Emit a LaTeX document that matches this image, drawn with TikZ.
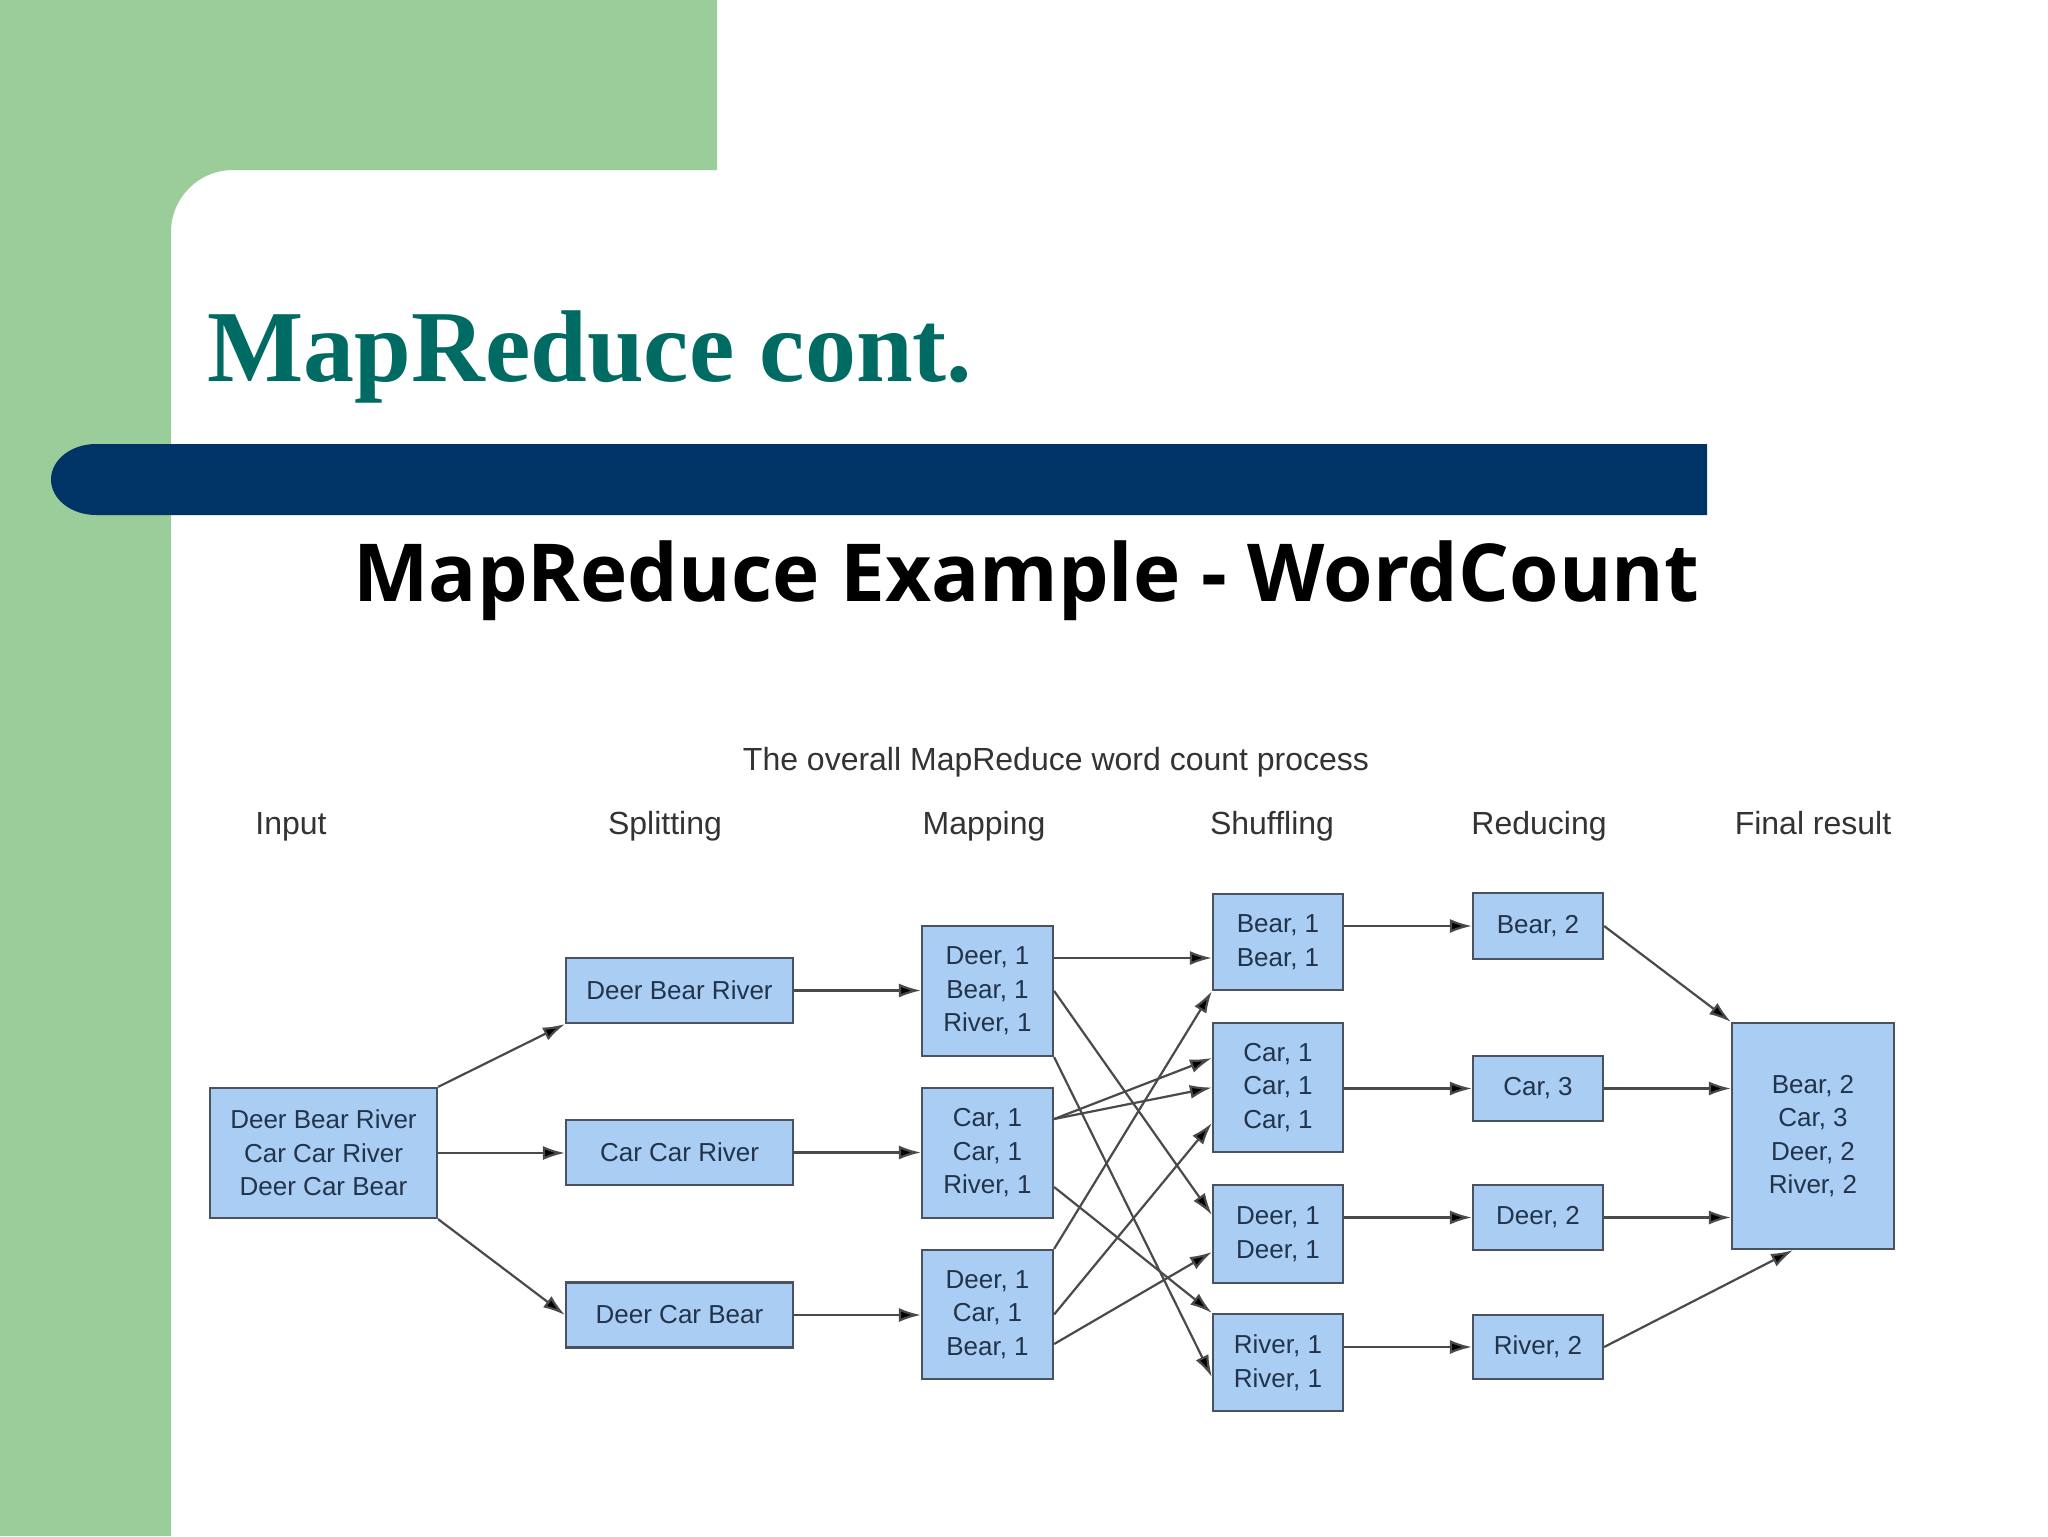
\documentclass[tikz,border=0pt]{standalone}
\usepackage{fontspec}
\setmainfont{Liberation Sans}
\newfontfamily\titlefont{Liberation Serif}
\newfontfamily\subfont{Open Sans}
\usetikzlibrary{arrows.meta}
\definecolor{sgreen}{HTML}{9BCD9B}
\definecolor{snavy}{HTML}{003366}
\definecolor{steal}{HTML}{006B63}
\definecolor{boxfill}{HTML}{A9CDF3}
\definecolor{boxline}{HTML}{4A5260}
\definecolor{boxtext}{HTML}{22334A}
\definecolor{hdrtext}{HTML}{333333}
\definecolor{arrline}{HTML}{4A4A4A}
\tikzset{
  box/.style={draw=boxline, line width=1.1pt, fill=boxfill, rectangle, inner sep=0pt,
    align=center, text=boxtext, font=\fontsize{13}{16.75}\selectfont},
  hdr/.style={anchor=base, text=hdrtext, font=\fontsize{16}{19}\selectfont, inner sep=0pt},
  arr/.style={draw=arrline, line width=1.1pt, -{Latex[length=11pt,width=7pt,fill=black]}}
}
\begin{document}
\begin{tikzpicture}[x=0.5pt,y=-0.5pt]
\useasboundingbox (0,0) rectangle (2048,1536);
\fill[white] (0,0) rectangle (2048,1536);
% green L-shaped background
\fill[sgreen] (0,0) -- (717,0) -- (717,170) -- (233,170)
  arc[start angle=270, end angle=180, radius=62] -- (171,1536) -- (0,1536) -- cycle;
% navy bar
\fill[snavy] (1707,444) -- (96,444) arc[start angle=270, end angle=90, x radius=45, y radius=35.5] -- (1707,515) -- cycle;
% titles
\node[anchor=base west, inner sep=0pt, text=steal, font=\titlefont\bfseries\fontsize{51}{60}\selectfont] (title) at (207,381) {MapReduce cont.};
\node[anchor=base west, inner sep=0pt, text=black, font=\subfont\bfseries\fontsize{40}{48}\selectfont] (subtitle) at (353,601) {MapReduce Example - WordCount};
% caption and headers
\node[hdr] (cap) at (1056,770) {The overall MapReduce word count process};
\node[hdr] (hInput) at (291,834) {Input};
\node[hdr] (hSplit) at (665,834) {Splitting};
\node[hdr] (hMap) at (984,834) {Mapping};
\node[hdr] (hShuf) at (1272,834) {Shuffling};
\node[hdr] (hRed) at (1539,834) {Reducing};
\node[hdr] (hFin) at (1813,834) {Final result};
% boxes
\node[box, minimum width=113.5pt, minimum height=65pt] (inp) at (323.5,1153) {Deer Bear River\\Car Car River\\Deer Car Bear};
\node[box, minimum width=113.5pt, minimum height=32.5pt] (s1) at (679.5,990.5) {Deer Bear River};
\node[box, minimum width=113.5pt, minimum height=32.5pt] (s2) at (679.5,1152.5) {Car Car River};
\node[box, minimum width=113.5pt, minimum height=32.5pt] (s3) at (679.5,1315) {Deer Car Bear};
\node[box, minimum width=65.5pt, minimum height=65pt] (m1) at (987.5,991) {Deer, 1\\Bear, 1\\River, 1};
\node[box, minimum width=65.5pt, minimum height=65pt] (m2) at (987.5,1153) {Car, 1\\Car, 1\\River, 1};
\node[box, minimum width=65.5pt, minimum height=64.5pt] (m3) at (987.5,1314.5) {Deer, 1\\Car, 1\\Bear, 1};
\node[box, minimum width=65pt, minimum height=48pt] (sh1) at (1278,942) {Bear, 1\\Bear, 1};
\node[box, minimum width=65pt, minimum height=64.5pt] (sh2) at (1278,1087.5) {Car, 1\\Car, 1\\Car, 1};
\node[box, minimum width=65pt, minimum height=49pt] (sh3) at (1278,1234) {Deer, 1\\Deer, 1};
\node[box, minimum width=65pt, minimum height=48.5pt] (sh4) at (1278,1362.5) {River, 1\\River, 1};
\node[box, minimum width=65pt, minimum height=33pt] (r1) at (1538,926) {Bear, 2};
\node[box, minimum width=65pt, minimum height=32.5pt] (r2) at (1538,1088.5) {Car, 3};
\node[box, minimum width=65pt, minimum height=32.5pt] (r3) at (1538,1217.5) {Deer, 2};
\node[box, minimum width=65pt, minimum height=32pt] (r4) at (1538,1347) {River, 2};
\node[box, minimum width=81pt, minimum height=113pt] (fin) at (1813,1136) {Bear, 2\\Car, 3\\Deer, 2\\River, 2};
% input -> splitting
\draw[arr] (inp.north east) -- (s1.south west);
\draw[arr] (inp.east) -- (inp.east -| s2.west);
\draw[arr] (inp.south east) -- (s3.west);
% splitting -> mapping
\draw[arr] (s1.east) -- (s1.east -| m1.west);
\draw[arr] (s2.east) -- (s2.east -| m2.west);
\draw[arr] (s3.east) -- (s3.east -| m3.west);
% mapping -> shuffling
\draw[arr] ([yshift=16.5pt]m1.east) -- ([yshift=-8pt]sh1.west);
\draw[arr] (m1.east) -- ([yshift=9.5pt]sh3.west);
\draw[arr] (m1.south east) -- ([yshift=-7.25pt]sh4.west);
\draw[arr] ([yshift=17pt]m2.east) -- ([yshift=14.75pt]sh2.west);
\draw[arr] ([yshift=17pt]m2.east) -- (sh2.west);
\draw[arr] ([yshift=-17pt]m2.east) -- (sh4.north west);
\draw[arr] (m3.north east) -- (sh1.south west);
\draw[arr] (m3.east) -- ([yshift=-17.75pt]sh2.west);
\draw[arr] ([yshift=-14.75pt]m3.east) -- ([yshift=-9pt]sh3.west);
% shuffling -> reducing
\draw[arr] (r1.west -| sh1.east) -- (r1.west);
\draw[arr] (r2.west -| sh2.east) -- (r2.west);
\draw[arr] (r3.west -| sh3.east) -- (r3.west);
\draw[arr] (r4.west -| sh4.east) -- (r4.west);
% reducing -> final
\draw[arr] (r1.east) -- (fin.north west);
\draw[arr] (r2.east) -- (r2.east -| fin.west);
\draw[arr] (r3.east) -- (r3.east -| fin.west);
\draw[arr] (r4.east) -- ([xshift=-10pt]fin.south);
\end{tikzpicture}
\end{document}
